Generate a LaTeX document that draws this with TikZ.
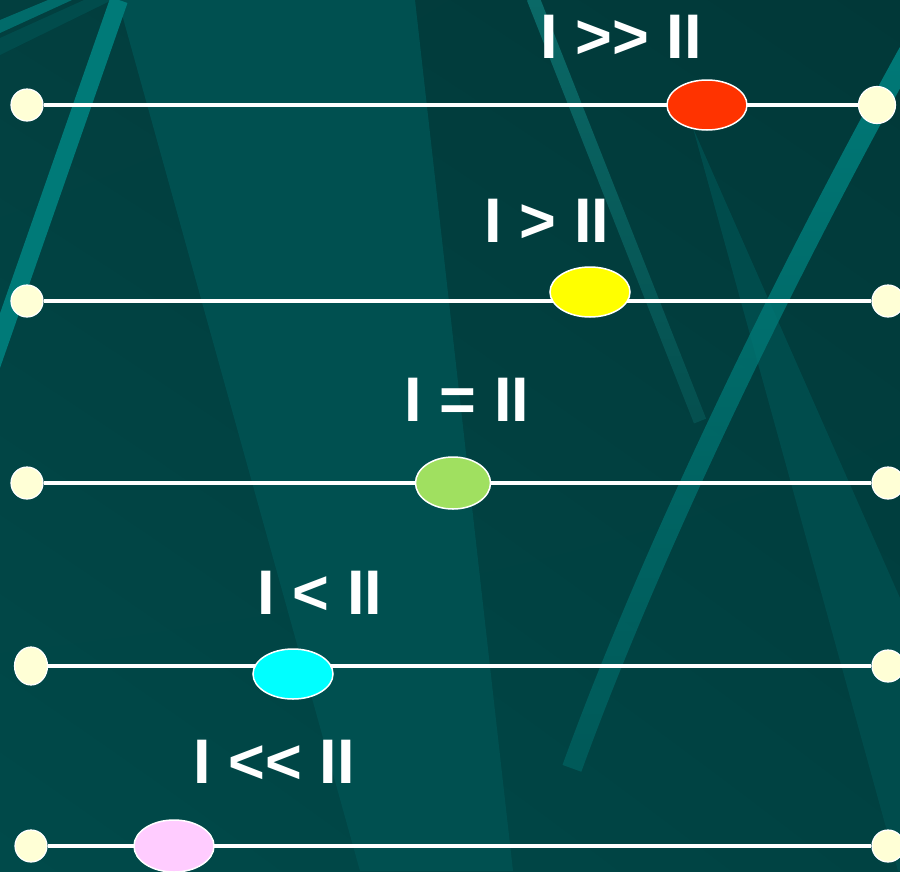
\documentclass[tikz,border=0pt]{standalone}
\usepackage{fontspec}
\setmainfont{Liberation Sans}
\usepackage{xcolor}
\usetikzlibrary{shapes.geometric,fadings,shadings}

\definecolor{bgtl}{HTML}{023F3F}
\definecolor{bgtr}{HTML}{013838}
\definecolor{bgbl}{HTML}{004A4A}
\definecolor{bgbr}{HTML}{004242}
\definecolor{wedge}{HTML}{005050}
\definecolor{stripe}{HTML}{007A78}
\definecolor{thinstripe}{HTML}{0B6A68}
\definecolor{dotyellow}{HTML}{FFFFD6}
\definecolor{mred}{HTML}{FF3300}
\definecolor{myellow}{HTML}{FFFF00}
\definecolor{mgreen}{HTML}{A0E060}
\definecolor{mcyan}{HTML}{00FFFF}
\definecolor{mpink}{HTML}{FFCCFF}

\tikzfading[name=fadelow, top color=transparent!0, bottom color=transparent!60]

\begin{document}
\begin{tikzpicture}[x=1pt,y=-1pt,
    endpt/.style={circle, draw=white, line width=1.2pt, fill=dotyellow, minimum size=32pt, inner sep=0pt},
    marker/.style={ellipse, draw=white, line width=1.5pt, minimum width=80pt, minimum height=50pt, inner sep=0pt},
    cmp/.style={text=white, font=\bfseries\fontsize{63}{63}\selectfont, inner sep=0pt, anchor=base},
    rail/.style={draw=white, line width=3.5pt}]
\useasboundingbox (0,0) rectangle (900,871);

% background
\shade[upper left=bgtl, upper right=bgtr, lower left=bgbl, lower right=bgbr] (0,0) rectangle (900,871);
\begin{scope}
\clip (0,0) rectangle (900,871);
\fill[wedge] (118,0) -- (415,0) -- (513,871) -- (360,871) -- cycle;
\fill[wedge!85!bgtr] (693,128) -- (900,598) -- (900,871) -- (898,871) -- cycle;
\fill[stripe!75!bgtl] (0,20) -- (0,33) -- (72,0) -- (48,0) -- cycle;
\fill[wedge!80!bgtl] (0,38) -- (0,55) -- (112,0) -- (84,0) -- cycle;
\draw[line width=18pt, stripe] (119,0) -- (-12,375);
\draw[line width=13pt, thinstripe, path fading=fadelow] (533,-2) -- (700,421);
\draw[line width=20pt, stripe, path fading=fadelow]
    (912,45) .. controls (760,320) and (640,580) .. (572,768);
\end{scope}

% row 1
\node[endpt] (l1) at (27,105) {};
\node[endpt, minimum size=37pt] (r1) at (877,105) {};
\draw[rail] (l1.east) -- (r1.west);
\node[marker, fill=mred] (m1) at (707,105) {};
\node[cmp] (t1) at (621,58) {I >{}> II};

% row 2
\node[endpt] (l2) at (27,301) {};
\node[endpt] (r2) at (888,301) {};
\draw[rail] (l2.east) -- (r2.west);
\node[marker, fill=myellow] (m2) at (590,292) {};
\node[cmp] (t2) at (547,242) {I > II};

% row 3
\node[endpt] (l3) at (27,483) {};
\node[endpt] (r3) at (888,483) {};
\draw[rail] (l3.east) -- (r3.west);
\node[marker, fill=mgreen, minimum width=75pt, minimum height=52pt] (m3) at (453,483) {};
\node[cmp] (t3) at (467,421) {I = II};

% row 4
\node[endpt, ellipse, minimum width=33pt, minimum height=38pt] (l4) at (31,666) {};
\node[endpt] (r4) at (888,666) {};
\draw[rail] (l4.east) -- (r4.west);
\node[marker, fill=mcyan] (m4) at (293,674) {};
\node[cmp] (t4) at (320,614) {I < II};

% row 5
\node[endpt] (l5) at (31,846) {};
\node[endpt] (r5) at (888,846) {};
\draw[rail] (l5.east) -- (r5.west);
\node[marker, fill=mpink, minimum height=52pt] (m5) at (174,846) {};
\node[cmp] (t5) at (274,783) {I <{}< II};
\end{tikzpicture}
\end{document}
